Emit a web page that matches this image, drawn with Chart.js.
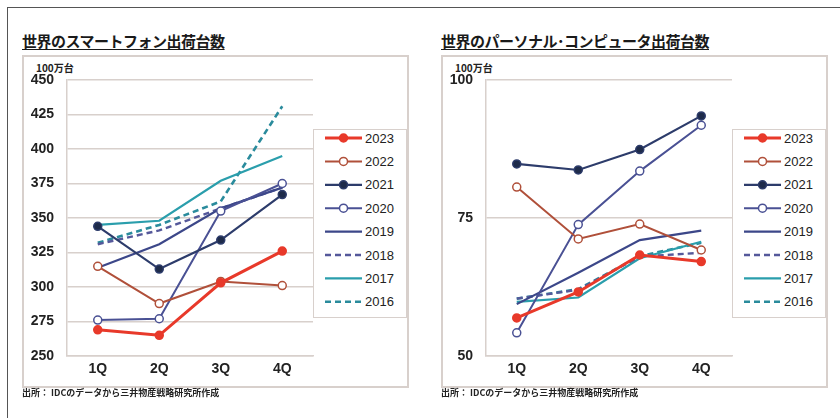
<!DOCTYPE html>
<html lang="ja">
<head>
<meta charset="UTF-8">
<title>世界のスマートフォン・パソコン出荷台数</title>
<script src="https://cdn.jsdelivr.net/npm/chart.js"></script>
<style>
  body { margin: 0; width: 840px; height: 418px; background: #fff; position: relative; overflow: hidden;
         font-family: "Noto Sans CJK JP", "Liberation Sans", sans-serif; }
  .frame { position: absolute; left: 7px; top: 7px; width: 840px; height: 420px;
           border-left: 1.5px solid #555; border-top: 1.5px solid #555; }
  .title { position: absolute; top: 30px; font-size: 15px; font-weight: bold; color: #1a1a1a;
           text-decoration: underline; text-underline-offset: 2px; letter-spacing: -0.5px; }
  .panel { position: absolute; top: 55px; width: 383px; height: 329px; border: 2px solid #d8d0cc; }
  .unit { position: absolute; top: 60px; font-size: 10px; font-weight: bold; color: #222; }
  .note { position: absolute; top: 386px; font-size: 9px; font-weight: bold; color: #222; }
  canvas { position: absolute; top: 55px; }
  .legend { position: absolute; top: 129px; width: 92px; height: 187px; border: 1.5px solid #d8d0cc; background: #fff; }
</style>
</head>
<body>
<div class="frame"></div>

<div class="title" style="left:22px">世界のスマートフォン出荷台数</div>
<div class="title" style="left:441px">世界のパーソナル･コンピュータ出荷台数</div>

<div class="panel" style="left:22px"></div>
<div class="panel" style="left:441px"></div>

<div class="unit" style="left:36px">100万台</div>
<div class="unit" style="left:455px">100万台</div>

<canvas id="phoneChart" width="300" height="332" style="left:22px"></canvas>
<canvas id="pcChart" width="300" height="332" style="left:441px"></canvas>

<div class="legend" id="phoneLegend" style="left:313px"></div>
<div class="legend" id="pcLegend" style="left:732px"></div>

<div class="note" style="left:22px">出所： IDCのデータから三井物産戦略研究所作成</div>
<div class="note" style="left:441px">出所： IDCのデータから三井物産戦略研究所作成</div>

<script>
// quarters and series labels
const quarters = ['1Q', '2Q', '3Q', '4Q'];
const years = ['2023', '2022', '2021', '2020', '2019', '2018', '2017', '2016'];

// smartphone shipments (million units)
const phone2023 = [269, 265, 303, 326];
const phone2022 = [315, 288, 304, 301];
const phone2021 = [344, 313, 334, 367];
const phone2020 = [276, 277, 355, 375];
const phone2019 = [314, 331, 357, 372];
const phone2018 = [331, 341, 357, 372];
const phone2017 = [345, 348, 377, 395];
const phone2016 = [332, 345, 362, 431];
const phoneTicks = [250, 275, 300, 325, 350, 375, 400, 425, 450];

// PC shipments (million units)
const pc2023 = [56.9, 61.6, 68.3, 67.1];
const pc2022 = [80.6, 71.2, 73.9, 69.2];
const pc2021 = [84.8, 83.7, 87.4, 93.5];
const pc2020 = [54.2, 73.8, 83.5, 91.8];
const pc2019 = [59.4, 65.1, 71.0, 72.7];
const pc2018 = [60.4, 62.0, 68.0, 68.7];
const pc2017 = [59.8, 60.6, 67.7, 70.7];
const pc2016 = [60.4, 62.1, 68.1, 70.5];
const pcTicks = [50, 75, 100];

// line styles per year
const styles = {
  '2023': { color: '#e8392a', width: 3, dash: [], marker: 'filled', fill: '#e8392a' },
  '2022': { color: '#b0503a', width: 2, dash: [], marker: 'open', fill: '#fff' },
  '2021': { color: '#2d3c6b', width: 2.2, dash: [], marker: 'filled', fill: '#1e2b4a' },
  '2020': { color: '#4a5194', width: 2, dash: [], marker: 'open', fill: '#fff' },
  '2019': { color: '#3c4789', width: 2.2, dash: [], marker: null },
  '2018': { color: '#55589a', width: 2.4, dash: [6, 4], marker: null },
  '2017': { color: '#2a9eac', width: 2.2, dash: [], marker: null },
  '2016': { color: '#2a8b9c', width: 2.6, dash: [6, 4], marker: null }
};

function makeDatasets(series) {
  return years.map((y, i) => {
    const s = styles[y];
    return {
      label: y,
      data: series[i],
      borderColor: s.color,
      borderWidth: s.width,
      borderDash: s.dash,
      pointRadius: s.marker ? 4 : 0,
      pointBackgroundColor: s.fill || s.color,
      pointBorderColor: s.color,
      pointBorderWidth: 1.5,
      tension: 0
    };
  });
}

function makeChart(id, series, ticks) {
  const tickFont = { family: 'Liberation Sans', size: 14, weight: 'bold' };
  new Chart(document.getElementById(id), {
    type: 'line',
    data: { labels: quarters, datasets: makeDatasets(series) },
    options: {
      responsive: false,
      animation: false,
      layout: { padding: { top: 25, right: 9, left: 0, bottom: 0 } },
      plugins: { legend: { display: false }, tooltip: { enabled: false } },
      scales: {
        x: {
          offset: true,
          grid: { display: false, drawTicks: false },
          border: { display: true, color: '#d8d0cc', width: 1.5 },
          ticks: { color: '#222', font: tickFont, padding: 5 },
          afterFit: s => { s.height = 31; }
        },
        y: {
          min: ticks[0],
          max: ticks[ticks.length - 1],
          afterBuildTicks: s => { s.ticks = ticks.map(v => ({ value: v })); },
          grid: { color: '#d8d0cc', lineWidth: 1.5, drawTicks: false },
          border: { display: true, color: '#d8d0cc', width: 1.5 },
          ticks: { color: '#222', font: tickFont, padding: 13 },
          afterFit: s => { s.width = 45; }
        }
      }
    }
  });
}

function makeLegend(id) {
  const box = document.getElementById(id);
  let svg = '<svg width="92" height="187" xmlns="http://www.w3.org/2000/svg">';
  years.forEach((y, i) => {
    const s = styles[y];
    const cy = 8 + i * 23.4;
    svg += `<line x1="11" y1="${cy}" x2="48" y2="${cy}" stroke="${s.color}" stroke-width="${s.width}" stroke-dasharray="${s.dash.join(',')}"/>`;
    if (s.marker) {
      svg += `<circle cx="29.5" cy="${cy}" r="4" fill="${s.fill}" stroke="${s.color}" stroke-width="1.5"/>`;
    }
    svg += `<text x="51" y="${cy + 4.5}" font-family="Liberation Sans" font-size="13" fill="#222">${y}</text>`;
  });
  svg += '</svg>';
  box.innerHTML = svg;
}

makeChart('phoneChart',
  [phone2023, phone2022, phone2021, phone2020, phone2019, phone2018, phone2017, phone2016],
  phoneTicks);
makeChart('pcChart',
  [pc2023, pc2022, pc2021, pc2020, pc2019, pc2018, pc2017, pc2016],
  pcTicks);
makeLegend('phoneLegend');
makeLegend('pcLegend');
</script>
</body>
</html>
